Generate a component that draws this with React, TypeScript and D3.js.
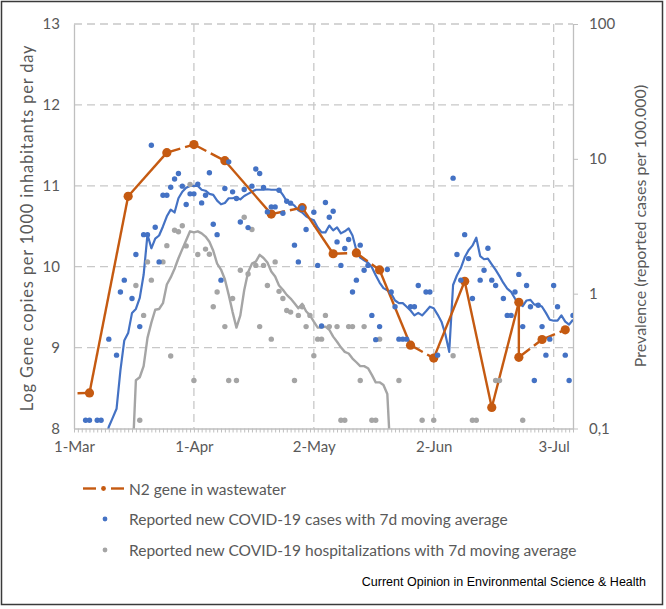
import React, { useEffect, useRef } from "react";
import * as d3 from "d3";

// day 0 = 1 March 2020, one entry per day
const START = new Date(Date.UTC(2020, 2, 1));
const LAST_DAY = 129;

// N2 gene in wastewater (left axis, log gene copies per 1000 inh. per day)
const n2Days = [-4, 4, 14, 24, 31, 39, 51, 59, 67, 73, 79, 87, 93, 101, 108, 115, 115, 121, 127];
const n2Values = [8.43, 8.44, 10.87, 11.41, 11.51, 11.31, 10.65, 10.73, 10.16, 10.17, 9.96, 9.03, 8.87, 9.82, 8.26, 9.56, 8.88, 9.1, 9.22];

// reported new cases per 100.000 (right axis), daily, null = no dot
const casesDaily = [
  null, null, null, 0.115, 0.115, null, 0.115, 0.115, null, 0.46,
  null, 0.35, 1.03, 1.26, null, 0.92, 1.95, 0.57, 2.74, 2.74,
  12.6, 3.11, 1.72, 5.37, 5.37, 6.16, 7.09, 7.79, 6.27, 4.58,
  5.5, 5.5, 6.49, 4.71, 5.37, 7.89, 3.27, 2.74, 1.26, 6.03,
  9.5, 5.69, 5.08, 3.4, 5.92, 3.09, 6.27, 8.41, 7.79, 6.13,
  4.04, 4.4, 4.4, 5.85, 3.95, 4.85, 4.69, 2.29, 1.72, 4.32,
  2.99, null, 4.02, 1.62, 0.575, 4.75, 3.69, 4.09, 2.42, 1.62,
  2.16, 2.52, 1.03, 1.26, 2.29, 1.49, 1.62, 0.69, 0.456, 0.57,
  null, 1.51, 1.03, 0.8, 0.46, 0.46, 0.46, 0.8, 0.8, 1.15,
  null, 1.03, 1.03, null, 0.35, null, null, null, 7.19, 1.95,
  1.26, 2.74, 1.82, 0.92, null, 1.26, 1.49, 2.17, 1.26, 1.15,
  null, 0.92, 0.69, 0.69, 1.03, 1.39, 0.57, 1.15, 0.8, 0.227,
  0.82, 0.57, 0.35, 0.46, 1.15, 0.8, null, 0.35, 0.227, 0.69,
];

// 7d moving average of cases, starting at day 7
const casesAvgStart = 7;
const casesAvg = [
  0.07, 0.08, 0.103, 0.12, 0.14, 0.27, 0.45, 0.51, 0.72, 0.77,
  0.93, 1.38, 2.75, 2.17, 2.56, 2.7, 3.15, 3.75, 4.2, 4.0,
  5.1, 5.7, 6.1, 6.3, 6.3, 6.3, 5.9, 5.8, 5.5, 5.4,
  4.9, 4.6, 4.7, 5.1, 5.1, 5.2, 5.0, 5.3, 5.5, 5.7,
  5.9, 5.9, 5.9, 5.95, 5.9, 5.9, 5.9, 5.4, 4.85, 4.7,
  4.5, 4.15, 4.0, 3.75, 3.6, 3.5, 3.1, 2.85, 2.85, 3.2,
  2.95, 3.1, 2.8, 2.9, 3.05, 2.7, 2.1, 1.85, 1.77, 1.7,
  1.57, 1.37, 1.21, 1.1, 1.06, 1.0, 0.89, 0.85, 0.85, 0.8,
  0.75, 0.69, 0.72, 0.69, 0.74, 0.8, 0.78, 0.7, 0.62, 0.5,
  0.37, 1.16, 1.37, 1.55, 1.86, 2.1, 2.27, 2.6, 1.9, 1.8,
  1.82, 1.65, 1.5, 1.35, 1.2, 1.09, 1.03, 0.92, 0.84, 0.81,
  0.89, 0.9, 0.83, 0.83, 0.8, 0.72, 0.64, 0.63, 0.63, 0.69,
  0.62, 0.59, 0.64,
];

// reported new hospitalizations per 100.000, daily
const hospDaily = [
  null, null, null, null, null, null, null, null, null, null,
  null, null, null, null, null, null, 1.15, 0.115, 0.69, 1.72,
  1.26, null, null, 1.72, 2.27, 0.345, 2.95, 2.88, 3.19, 2.26,
  6.46, 0.227, 1.95, null, 2.14, 1.96, 0.8, 1.03, null, 0.57,
  0.227, 0.92, 0.227, 1.49, 3.69, 1.4, 2.99, 1.62, 0.57, 1.62,
  1.15, 0.46, 1.72, 1.04, 0.92, 0.75, 0.73, 0.227, 0.69, 0.8,
  0.57, 0.69, 0.346, 0.46, 0.46, 0.69, 0.57, null, 0.57, 0.115,
  0.115, 0.57, 0.57, null, 0.227, 0.57, null, 0.115, 0.115, 0.46,
  null, null, null, null, 0.227, null, null, null, null, null,
  0.115, null, null, 0.115, null, null, null, null, 0.346, null,
  null, null, null, 0.115, 0.115, null, null, null, null, 0.227,
  0.227, null, null, null, null, null, 0.115,
];

// 7d moving average of hospitalizations, starting at day 15
const hospAvgStart = 15;
const hospAvg = [
  0.05, 0.228, 0.24, 0.29, 0.47, 0.61, 0.76, 0.77, 0.85, 1.17,
  1.32, 1.53, 1.83, 2.14, 2.49, 2.9, 2.85, 2.9, 2.8, 2.65,
  2.43, 2.08, 1.67, 1.51, 1.28, 0.98, 0.73, 0.56, 0.69, 1.06,
  1.44, 1.67, 1.73, 1.94, 1.84, 1.7, 1.46, 1.34, 1.15, 1.07,
  0.98, 0.92, 0.85, 0.78, 0.84, 0.74, 0.69, 0.62, 0.56, 0.56,
  0.57, 0.54, 0.48, 0.44, 0.4, 0.37, 0.36, 0.33, 0.31, 0.29,
  0.29, 0.28, 0.25, 0.22, 0.22, 0.21, 0.18, 0.05,
];

const xTickDays = [0, 31, 62, 93, 124];
const xTickLabels = ["1-Mar", "1-Apr", "2-May", "2-Jun", "3-Jul"];
const leftTicks = [8, 9, 10, 11, 12, 13];
const rightTicks = [0.1, 1, 10, 100];
const rightTickLabels = ["0,1", "1", "10", "100"];

const legendLabels = [
  "N2 gene in wastewater",
  "Reported new COVID-19 cases with 7d moving average",
  "Reported new COVID-19 hospitalizations with 7d moving average",
];

const ORANGE = "#C55A11";
const BLUE = "#4472C4";
const GRAY = "#A5A5A5";
const TEXT = "#595959";
const FONT = "Lato, 'Open Sans', sans-serif";

export default function App() {
  const ref = useRef<SVGSVGElement>(null);

  useEffect(() => {
    const svg = d3.select(ref.current);
    svg.selectAll("*").remove();

    const left = 74, right = 573, top = 24, bottom = 428.5;
    const day = (i: number) => d3.utcDay.offset(START, i);

    const x = d3.scaleUtc().domain([day(0), day(LAST_DAY)]).range([left, right]);
    const yL = d3.scaleLinear().domain([8, 13]).range([bottom, top]);
    const yR = d3.scaleLog().domain([0.1, 100]).range([bottom, top]);

    svg.append("rect")
      .attr("x", 1.5).attr("y", 1.5).attr("width", 661).attr("height", 603)
      .attr("fill", "#fff").attr("stroke", "#3a3a3a").attr("stroke-width", 1.5);

    svg.append("defs").append("clipPath").attr("id", "plot-clip")
      .append("rect").attr("x", left).attr("y", top)
      .attr("width", right - left).attr("height", bottom - top);

    // gridlines
    const grid = svg.append("g")
      .attr("stroke", "#C8C8C8").attr("stroke-width", 1.3).attr("stroke-dasharray", "8,5");
    grid.selectAll("line.h").data(leftTicks.filter((t) => t > 8)).join("line")
      .attr("class", "h")
      .attr("x1", left).attr("x2", right)
      .attr("y1", (d) => yL(d)).attr("y2", (d) => yL(d));
    grid.selectAll("line.v").data(xTickDays.slice(1)).join("line")
      .attr("class", "v")
      .attr("x1", (d) => x(day(d))).attr("x2", (d) => x(day(d)))
      .attr("y1", top).attr("y2", bottom);

    // left axis
    const gL = svg.append("g").attr("transform", `translate(${left},0)`)
      .call(d3.axisLeft(yL).tickValues(leftTicks).tickSize(0).tickPadding(14).tickFormat(d3.format("d")));
    // right axis
    const gR = svg.append("g").attr("transform", `translate(${right},0)`)
      .call(d3.axisRight(yR).tickValues(rightTicks).tickSizeInner(5).tickSizeOuter(0).tickPadding(11)
        .tickFormat((d, i) => rightTickLabels[i]));
    // bottom axis: a small tick every day, labels every 31 days
    const gB = svg.append("g").attr("transform", `translate(0,${bottom})`)
      .call(d3.axisBottom(x).tickValues(d3.range(0, LAST_DAY + 1).map(day)).tickSizeInner(4).tickSizeOuter(0)
        .tickFormat(() => ""));
    const gBL = svg.append("g").attr("transform", `translate(0,${bottom})`)
      .call(d3.axisBottom(x).tickValues(xTickDays.map(day)).tickSize(0).tickPadding(13)
        .tickFormat((d, i) => xTickLabels[i]));
    gBL.select(".domain").remove();

    for (const g of [gL, gR, gB, gBL]) {
      g.select(".domain").attr("stroke", "#BFBFBF").attr("stroke-width", 1.3);
      g.selectAll(".tick line").attr("stroke", "#BFBFBF");
      g.selectAll("text").attr("fill", TEXT).attr("font-size", 15).attr("font-family", FONT);
    }

    const plot = svg.append("g").attr("clip-path", "url(#plot-clip)");

    // moving averages
    const avgLine = (start: number) => d3.line<number>()
      .x((v, i) => x(day(start + i)))
      .y((v) => yR(Math.max(v, 0.01)));
    plot.append("path").datum(hospAvg)
      .attr("d", avgLine(hospAvgStart)).attr("fill", "none")
      .attr("stroke", GRAY).attr("stroke-width", 2.4).attr("stroke-linejoin", "round");
    plot.append("path").datum(casesAvg)
      .attr("d", avgLine(casesAvgStart)).attr("fill", "none")
      .attr("stroke", BLUE).attr("stroke-width", 2.2).attr("stroke-linejoin", "round");

    // N2 wastewater: steep connectors come out solid, flat ones dashed
    const n2 = n2Days.map((d, i) => [x(day(d)), yL(n2Values[i])]);
    const segs = d3.pairs(n2);
    plot.selectAll("line.n2").data(segs).join("line")
      .attr("class", "n2")
      .attr("x1", (s) => s[0][0]).attr("y1", (s) => s[0][1])
      .attr("x2", (s) => s[1][0]).attr("y2", (s) => s[1][1])
      .attr("stroke", ORANGE).attr("stroke-width", 2.4)
      .attr("stroke-dasharray", (s) =>
        Math.abs(s[1][1] - s[0][1]) > Math.abs(s[1][0] - s[0][0]) ? null : "14,5");
    plot.selectAll("circle.n2").data(n2).join("circle")
      .attr("class", "n2")
      .attr("cx", (p) => p[0]).attr("cy", (p) => p[1]).attr("r", 4.6)
      .attr("fill", ORANGE);

    // daily dots
    const dots = (data: (number | null)[], color: string) => {
      const pts = data.map((v, i) => ({ i, v })).filter((p) => p.v != null);
      plot.append("g").selectAll("circle").data(pts).join("circle")
        .attr("cx", (p) => x(day(p.i))).attr("cy", (p) => yR(p.v as number))
        .attr("r", 2.7).attr("fill", color);
    };
    dots(hospDaily, GRAY);
    dots(casesDaily, BLUE);

    // axis titles
    svg.append("text")
      .attr("transform", "translate(27,228) rotate(-90)")
      .attr("text-anchor", "middle").attr("dominant-baseline", "central")
      .attr("fill", TEXT).attr("font-size", 16.5).attr("letter-spacing", 0.8).attr("font-family", FONT)
      .text("Log Gene copies per 1000 inhabitants per day");
    svg.append("text")
      .attr("transform", "translate(639,226) rotate(-90)")
      .attr("text-anchor", "middle").attr("dominant-baseline", "central")
      .attr("fill", TEXT).attr("font-size", 16).attr("font-family", FONT)
      .text("Prevalence (reported cases per 100.000)");

    // legend
    const lg = svg.append("g");
    const rowY = [488.5, 519, 550];
    lg.append("line").attr("x1", 83).attr("x2", 96).attr("y1", rowY[0]).attr("y2", rowY[0])
      .attr("stroke", ORANGE).attr("stroke-width", 2.4);
    lg.append("line").attr("x1", 111).attr("x2", 124).attr("y1", rowY[0]).attr("y2", rowY[0])
      .attr("stroke", ORANGE).attr("stroke-width", 2.4);
    lg.append("circle").attr("cx", 103.5).attr("cy", rowY[0]).attr("r", 2.4).attr("fill", ORANGE);
    lg.append("circle").attr("cx", 105).attr("cy", rowY[1]).attr("r", 2.4).attr("fill", BLUE);
    lg.append("circle").attr("cx", 105).attr("cy", rowY[2]).attr("r", 2.4).attr("fill", GRAY);
    lg.selectAll("text").data(legendLabels).join("text")
      .attr("x", 129).attr("y", (d, i) => rowY[i])
      .attr("dominant-baseline", "central")
      .attr("fill", TEXT).attr("font-size", 15.5).attr("font-family", FONT)
      .text((d) => d);

    svg.append("text")
      .attr("x", 646).attr("y", 585.5).attr("text-anchor", "end")
      .attr("fill", "#000").attr("font-size", 12.5).attr("font-family", "'Liberation Sans', Arial, sans-serif")
      .text("Current Opinion in Environmental Science & Health");
  }, []);

  return (
    <svg ref={ref} width={666} height={609}
      style={{ position: "absolute", left: 0, top: 0, background: "#fff" }} />
  );
}
